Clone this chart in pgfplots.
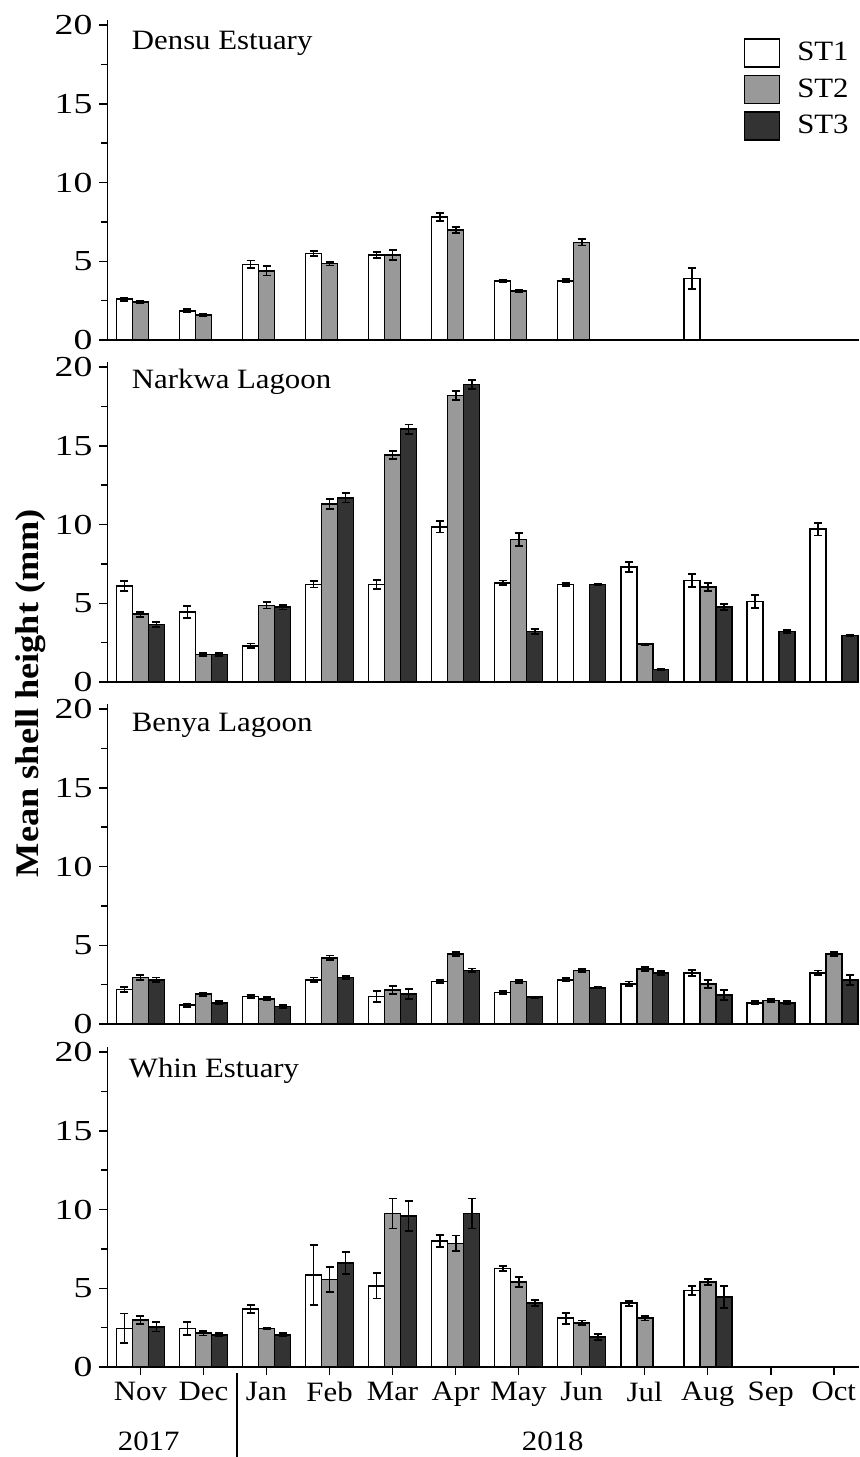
\documentclass[border=0pt]{standalone}
\usepackage{pgfplots}
\usepackage{pgfplotstable}
\pgfplotsset{compat=1.18}
\usepackage{fontspec}
\setmainfont{Liberation Serif}[FakeStretch=1.1]
\newfontfamily\tickfont{Liberation Serif}[FakeStretch=1.3]

\definecolor{stgray}{HTML}{999999}
\definecolor{stdark}{HTML}{333333}

\tikzset{ptitle/.style={anchor=base west, font=\fontsize{14}{16}\selectfont, inner sep=0pt}}

% one month = 31.515pt, one bar = 8pt = 0.2538 month
\pgfplotsset{
  panel/.style={
    width=375.75pt, height=160pt, scale only axis,
    xmin=-0.523, xmax=11.4, ymin=0, ymax=20.32,
    axis x line*=bottom, axis y line*=left,
    axis line style={-, line width=0.75pt},
    ytick={0,5,10,15,20}, minor y tick num=1,
    xtick=\empty,
    tick align=outside, major tick length=4pt, minor tick length=3pt,
    every tick/.style={black, line width=0.75pt},
    xticklabel style={font=\fontsize{14}{16}\selectfont},
    yticklabel style={font=\fontsize{14.5}{16}\tickfont},
    /pgf/number format/assume math mode=true,
    clip=false,
  },
  barbase/.style={ybar, bar width=8pt, bar shift=0pt, draw=black, line width=0.8pt,
    error bars/.cd, y dir=both, y explicit,
    error bar style={line width=0.9pt, black},
    error mark options={rotate=90, mark size=2pt, line width=0.9pt, black}},
  st1/.style={fill=white, barbase},
  st2/.style={fill=stgray, barbase},
  st3/.style={fill=stdark, barbase},
  boxlegend/.style={legend image code/.code={\draw[##1, line width=0.8pt] (0pt,-7pt) rectangle (17.5pt,7pt);}},
}

% Densu Estuary
\pgfplotstableread{
x y e
0 2.6 0.1
1 1.85 0.1
2 4.8 0.25
3 5.5 0.15
4 5.4 0.2
5 7.8 0.25
6 3.75 0.05
7 3.75 0.1
9 3.9 0.65
}\densuA
\pgfplotstableread{
x y e
0 2.4 0.08
1 1.6 0.08
2 4.4 0.3
3 4.85 0.12
4 5.4 0.3
5 7.0 0.2
6 3.1 0.08
7 6.2 0.2
}\densuB

% Narkwa Lagoon
\pgfplotstableread{
x y e
0 6.1 0.3
1 4.45 0.4
2 2.3 0.15
3 6.2 0.2
4 6.2 0.3
5 9.85 0.35
6 6.3 0.15
7 6.2 0.1
8 7.3 0.3
9 6.45 0.4
10 5.1 0.4
11 9.7 0.4
}\narkA
\pgfplotstableread{
x y e
0 4.3 0.15
1 1.75 0.08
2 4.87 0.2
3 11.3 0.3
4 14.4 0.25
5 18.2 0.3
6 9.05 0.4
8 2.4 0.05
9 6.05 0.25
}\narkB
\pgfplotstableread{
x y e
0 3.65 0.15
1 1.75 0.08
2 4.75 0.15
3 11.7 0.3
4 16.05 0.3
5 18.9 0.3
6 3.2 0.15
7 6.2 0.05
8 0.8 0.05
9 4.75 0.2
10 3.2 0.1
11 2.95 0.05
}\narkC

% Benya Lagoon
\pgfplotstableread{
x y e
0 2.2 0.15
1 1.2 0.1
2 1.75 0.1
3 2.8 0.15
4 1.75 0.35
5 2.7 0.1
6 2.0 0.1
7 2.8 0.1
8 2.55 0.15
9 3.25 0.2
10 1.35 0.1
11 3.25 0.15
}\benyaA
\pgfplotstableread{
x y e
0 2.95 0.15
1 1.9 0.1
2 1.6 0.1
3 4.2 0.15
4 2.15 0.25
5 4.45 0.12
6 2.7 0.1
7 3.4 0.08
8 3.5 0.12
9 2.55 0.25
10 1.5 0.1
11 4.45 0.12
}\benyaB
\pgfplotstableread{
x y e
0 2.8 0.15
1 1.35 0.1
2 1.1 0.1
3 2.95 0.08
4 1.9 0.3
5 3.4 0.12
6 1.7 0.05
7 2.3 0.05
8 3.25 0.12
9 1.85 0.3
10 1.35 0.1
11 2.8 0.3
}\benyaC

% Whin Estuary
\pgfplotstableread{
x y e
0 2.45 0.95
1 2.45 0.4
2 3.7 0.25
3 5.85 1.9
4 5.15 0.8
5 8.0 0.4
6 6.25 0.15
7 3.1 0.35
8 4.05 0.15
9 4.85 0.3
}\whinA
\pgfplotstableread{
x y e
0 3.0 0.25
1 2.15 0.15
2 2.45 0.05
3 5.55 0.8
4 9.75 0.95
5 7.85 0.5
6 5.4 0.3
7 2.8 0.15
8 3.1 0.15
9 5.4 0.2
}\whinB
\pgfplotstableread{
x y e
0 2.55 0.3
1 2.05 0.1
2 2.05 0.1
3 6.6 0.7
4 9.6 0.95
5 9.75 0.95
6 4.05 0.2
7 1.9 0.2
9 4.45 0.7
}\whinC

\begin{document}
\begin{tikzpicture}
\useasboundingbox (-53.75pt,10pt) rectangle (375.75pt,-718.5pt);

\begin{axis}[panel, name=p1, at={(0pt,0pt)}, anchor=north west,
  legend style={at={(0.846,0.945)}, anchor=north west, draw=none, fill=none,
    font=\fontsize{14}{16}\selectfont, row sep=3.5pt, inner sep=0pt,
    nodes={inner sep=0pt},
    /tikz/every odd column/.style={column sep=8.5pt}},
  legend cell align=left]
\addlegendimage{boxlegend, fill=white, draw=black}
\addlegendimage{boxlegend, fill=stgray, draw=black}
\addlegendimage{boxlegend, fill=stdark, draw=black}
\legend{ST1,ST2,ST3}
\addplot[st1] table[x expr=\thisrow{x}-0.2538, y=y, y error=e] {\densuA};
\addplot[st2] table[x=x, y=y, y error=e] {\densuB};
\node[ptitle] at (rel axis cs:0.032,0.909) {Densu Estuary};
\end{axis}

\begin{axis}[panel, name=p2, at={(0pt,-171pt)}, anchor=north west]
\addplot[st1] table[x expr=\thisrow{x}-0.2538, y=y, y error=e] {\narkA};
\addplot[st2] table[x=x, y=y, y error=e] {\narkB};
\addplot[st3] table[x expr=\thisrow{x}+0.2538, y=y, y error=e] {\narkC};
\node[ptitle] at (rel axis cs:0.032,0.916) {Narkwa Lagoon};
\end{axis}

\begin{axis}[panel, name=p3, at={(0pt,-342pt)}, anchor=north west]
\addplot[st1] table[x expr=\thisrow{x}-0.2538, y=y, y error=e] {\benyaA};
\addplot[st2] table[x=x, y=y, y error=e] {\benyaB};
\addplot[st3] table[x expr=\thisrow{x}+0.2538, y=y, y error=e] {\benyaC};
\node[ptitle] at (rel axis cs:0.032,0.913) {Benya Lagoon};
\end{axis}

\begin{axis}[panel, name=p4, at={(0pt,-513.5pt)}, anchor=north west,
  xtick={0,1,...,11},
  xticklabels={Nov,Dec,Jan,Feb,Mar,Apr,May,Jun,Jul,Aug,Sep,Oct},
  major x tick style={line width=0.75pt}]
\addplot[st1] table[x expr=\thisrow{x}-0.2538, y=y, y error=e] {\whinA};
\addplot[st2] table[x=x, y=y, y error=e] {\whinB};
\addplot[st3] table[x expr=\thisrow{x}+0.2538, y=y, y error=e] {\whinC};
\node[ptitle] at (rel axis cs:0.028,0.906) {Whin Estuary};
\draw[line width=0.75pt] ([yshift=-3pt]axis cs:1.53,0) -- ([yshift=-50pt]axis cs:1.53,0);
\node[font=\fontsize{14}{16}\selectfont] at (axis cs:0.13,0) [yshift=-37pt] {2017};
\node[font=\fontsize{14}{16}\selectfont] at (axis cs:6.54,0) [yshift=-37pt] {2018};
\end{axis}

\node[rotate=90, font=\fontsize{16.5}{18}\selectfont\bfseries] at (-38.5pt,-336.5pt) {Mean shell height (mm)};
\end{tikzpicture}
\end{document}
